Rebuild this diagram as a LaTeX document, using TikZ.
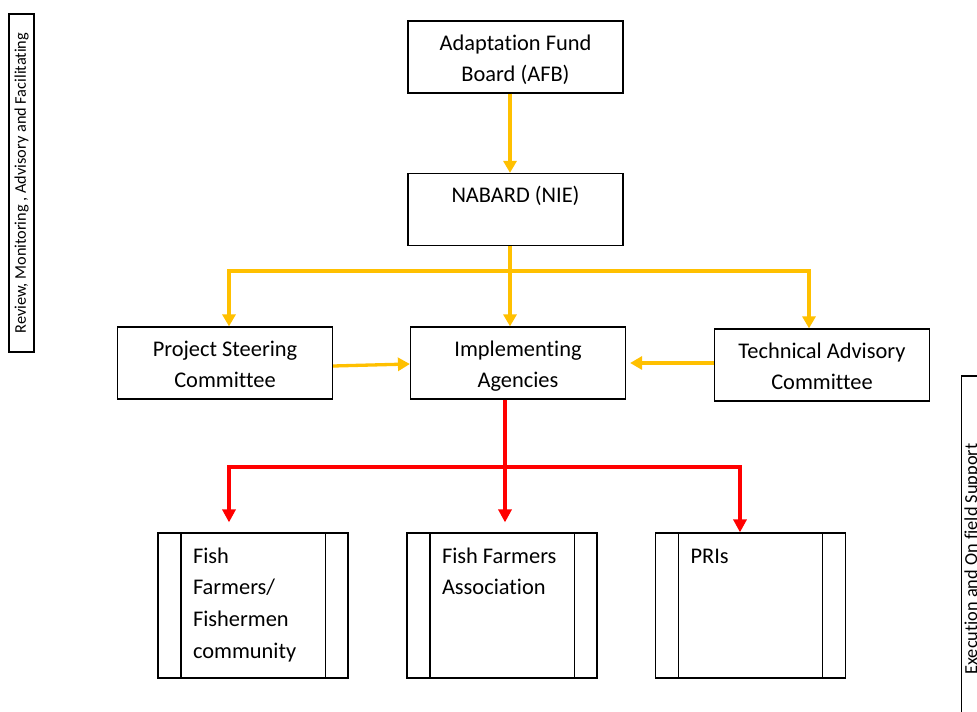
\documentclass[tikz,border=0pt]{standalone}
\usepackage{fontspec}
\setmainfont{Carlito}[Ligatures={NoCommon}]
\usetikzlibrary{arrows.meta}
\usetikzlibrary{positioning}

\definecolor{amber}{HTML}{FFC000}
\newcommand{\ls}{\rule[-6pt]{0pt}{30pt}}
\newcommand{\groupbody}[1]{\parbox[c][145pt][t]{190pt}{\raggedright\leftskip=35pt\vspace*{8pt}\strut#1}}

\begin{document}
\begin{tikzpicture}[x=1pt,y=1pt,
  unit/.style={draw,line width=1.2pt,minimum width=215,minimum height=72,align=center,inner sep=0,font=\fontsize{22.4}{31.7}\selectfont},
  group/.style={draw,line width=1.2pt,inner sep=0,font=\fontsize{22.4}{31.7}\selectfont},
  sidenote/.style={draw,line width=1.2pt,rotate=90,minimum height=25,inner sep=3pt,font=\fontsize{16.3}{19}\selectfont},
  ylink/.style={amber,line width=3.3pt,-{Triangle[width=13pt,length=12pt]}},
  rlink/.style={red,line width=4pt,-{Triangle[width=13pt,length=13pt]}}]
\useasboundingbox (0,0) rectangle (977,712);
\clip (0,0) rectangle (977,712);
\fill[white] (0,0) rectangle (977,712);

\node[sidenote,minimum width=338] (review) at (21.5,529) {Review, Monitoring , Advisory and Facilitating};
\node[sidenote,minimum width=366,minimum height=19.2,font=\fontsize{18.3}{22}\selectfont] (execution) at (972.3,153) {Execution and On field Support};

\node[unit] (afb) at (515.5,655) {\ls Adaptation Fund\\\ls Board (AFB)};
\node[unit] (nabard) at (515.5,502.5) {\ls NABARD (NIE)\\\ls};
\node[unit] (psc) at (225,349) {\ls Project Steering\\\ls Committee};
\node[unit] (ia) at (518,349) {\ls Implementing\\\ls Agencies};
\node[unit] (tac) at (822,347) {\ls Technical Advisory\\\ls Committee};

\node[group] (ff) at (253,106.5) {\groupbody{Fish\\Farmers/\\Fishermen\\community}};
\node[group] (ffa) at (502,106.5) {\groupbody{Fish Farmers\\Association}};
\node[group] (pri) at (750.5,106.5) {\groupbody{PRIs}};
\foreach \g in {ff,ffa,pri} {
  \draw[line width=1.2pt] ([xshift=23.5]\g.north west) -- ([xshift=23.5]\g.south west);
  \draw[line width=1.2pt] ([xshift=-23.5]\g.north east) -- ([xshift=-23.5]\g.south east);
}

\draw[ylink] ([xshift=-5.5]afb.south) -- ([xshift=-5.5]nabard.north);
\draw[ylink] ([xshift=-5.5]nabard.south) -- ([xshift=-8]ia.north);
\coordinate (ybar) at (510,441);
\draw[ylink,{Triangle[width=13pt,length=12pt]}-{Triangle[width=13pt,length=12pt]}] ([xshift=4]psc.north) |- (ybar) -| ([xshift=-13]tac.north);
\draw[ylink] ([yshift=-3]psc.east) -- ([yshift=-1]ia.west);
\draw[ylink,shorten >=4pt] ([yshift=2]tac.west) -- (ia.east);

\draw[rlink,shorten >=10pt] ([xshift=-13]ia.south) -- ([xshift=3]ffa.north);
\coordinate (rbar) at (505,245);
\draw[rlink,{Triangle[width=13pt,length=13pt]}-{Triangle[width=13pt,length=13pt]},shorten <=10pt] ([xshift=-24]ff.north) |- (rbar) -| ([xshift=-10.5]pri.north);

\end{tikzpicture}
\end{document}
